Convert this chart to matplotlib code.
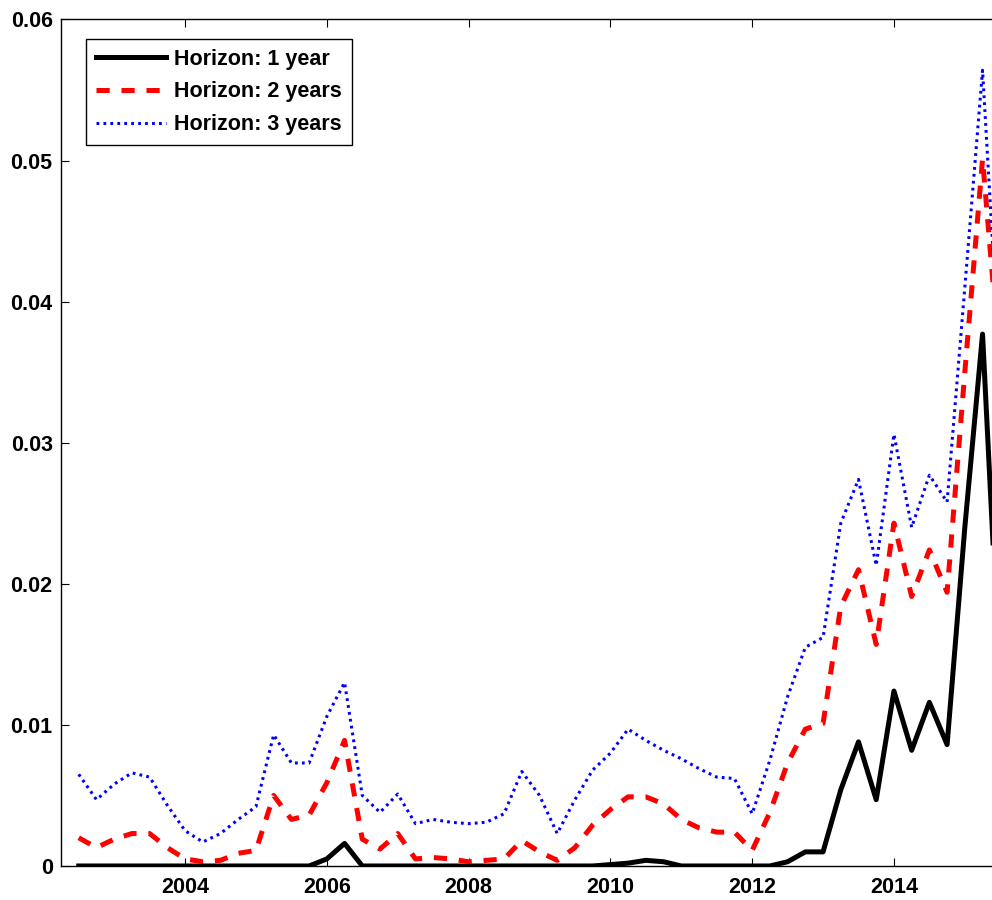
import matplotlib
matplotlib.use("Agg")
import matplotlib.pyplot as plt
import pandas as pd

# quarterly observations, 2002Q3 .. 2015Q3
quarters = pd.period_range("2002Q3", "2015Q3", freq="Q")
t = quarters.year + (quarters.quarter - 1) / 4.0

h1 = [0, 0, 0, 0, 0, 0, 0, 0, 0, 0,
      0, 0, 0, 0, 0.0005, 0.0016, 0, 0, 0, 0,
      0, 0, 0, 0, 0, 0, 0, 0, 0, 0,
      0.0001, 0.0002, 0.0004, 0.0003, 0, 0, 0, 0, 0, 0,
      0.0003, 0.0010, 0.0010, 0.0054, 0.0088, 0.0047, 0.0124, 0.0082, 0.0116, 0.0086,
      0.0240, 0.0377, 0.0126]
h2 = [0.0020, 0.0013, 0.0019, 0.0023, 0.0023, 0.0013, 0.0005, 0.0003, 0.0004, 0.0009,
      0.0011, 0.0050, 0.0033, 0.0036, 0.0059, 0.0089, 0.0019, 0.0012, 0.0023, 0.0005,
      0.0006, 0.0005, 0.0003, 0.0004, 0.0005, 0.0018, 0.0010, 0.0004, 0.0013, 0.0029,
      0.0040, 0.0049, 0.0049, 0.0044, 0.0033, 0.0027, 0.0024, 0.0024, 0.0011, 0.0038,
      0.0073, 0.0097, 0.0101, 0.0184, 0.0210, 0.0157, 0.0243, 0.0191, 0.0224, 0.0194,
      0.0350, 0.0501, 0.0352]
h3 = [0.0065, 0.0047, 0.0058, 0.0066, 0.0063, 0.0043, 0.0025, 0.0017, 0.0023, 0.0033,
      0.0042, 0.0093, 0.0073, 0.0073, 0.0106, 0.0130, 0.0050, 0.0038, 0.0051, 0.0030,
      0.0033, 0.0031, 0.0030, 0.0031, 0.0037, 0.0067, 0.0050, 0.0023, 0.0047, 0.0068,
      0.0080, 0.0097, 0.0089, 0.0082, 0.0076, 0.0069, 0.0063, 0.0062, 0.0037, 0.0075,
      0.0120, 0.0155, 0.0162, 0.0243, 0.0274, 0.0213, 0.0306, 0.0240, 0.0277, 0.0258,
      0.0410, 0.0564, 0.0347]
labels = ["Horizon: 1 year", "Horizon: 2 years", "Horizon: 3 years"]
yticks = [0, 0.01, 0.02, 0.03, 0.04, 0.05, 0.06]
ytick_labels = ["0", "0.01", "0.02", "0.03", "0.04", "0.05", "0.06"]
xticks = [2004, 2006, 2008, 2010, 2012, 2014]

plt.rcParams["font.family"] = ["Liberation Sans", "DejaVu Sans"]
plt.rcParams["font.weight"] = "bold"
plt.rcParams["font.size"] = 15.5
plt.rcParams["lines.scale_dashes"] = False

fig = plt.figure(figsize=(9.92, 9.0), dpi=100)
ax = fig.add_axes([0.0615, 0.0378, 0.9647, 0.9406])

ax.plot(t, h1, color="black", lw=3.6, label=labels[0])
ax.plot(t, h2, color="red", lw=3.6, dashes=(9.5, 8.5), dash_capstyle="butt", label=labels[1])
ax.plot(t, h3, color="blue", lw=2.2, dashes=(2.0, 3.0), dash_capstyle="butt", label=labels[2])

ax.set_xlim(2002.25, 2015.75)
ax.set_ylim(0, 0.06)
ax.set_xticks(xticks)
ax.set_yticks(yticks)
ax.set_yticklabels(ytick_labels)
ax.tick_params(direction="in", top=True, right=True, length=6, width=0.8, labelsize=15.5)
ax.tick_params(axis="x", pad=8)
ax.tick_params(axis="y", pad=6)
for s in ax.spines.values():
    s.set_linewidth(1.0)

leg = ax.legend(loc="upper left", bbox_to_anchor=(0.026, 0.977), fancybox=False,
                edgecolor="black", framealpha=1, handlelength=3.25, handletextpad=0.4,
                labelspacing=0.55, borderpad=0.45, borderaxespad=0)
leg.get_frame().set_linewidth(1.0)

fig.savefig("out.png", dpi=100)
